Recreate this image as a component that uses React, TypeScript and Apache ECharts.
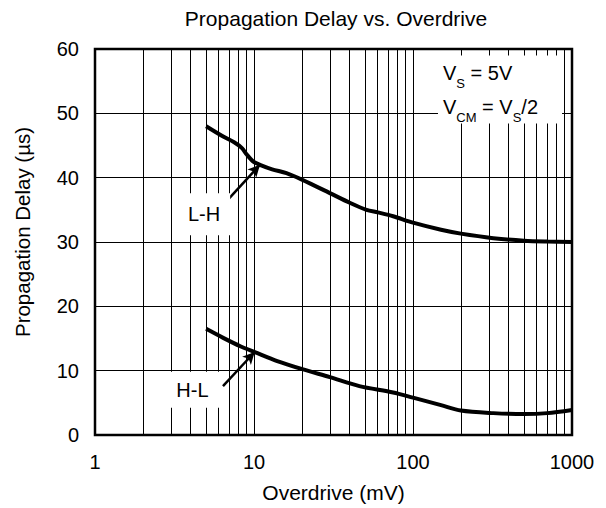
import React, { useEffect, useRef } from 'react';
import * as echarts from 'echarts';

// L-H propagation delay (µs) vs overdrive (mV)
const overdriveLH = [5, 6.4, 7.5, 8.4, 9, 9.9, 10.9, 13, 16, 20, 30, 40, 51, 60, 75, 100, 150, 200, 320, 500, 700, 1000];
const delayLH = [48, 46.4, 45.5, 44.6, 43.6, 42.5, 42.0, 41.3, 40.7, 39.7, 37.6, 36.1, 35.0, 34.6, 34.0, 33.0, 31.9, 31.3, 30.6, 30.2, 30.07, 30.0];

// H-L propagation delay (µs) vs overdrive (mV)
const overdriveHL = [5, 6.4, 8.2, 10.1, 14, 20.4, 30, 46, 75, 100, 150, 200, 320, 500, 700, 1000];
const delayHL = [16.5, 15.1, 13.8, 12.9, 11.5, 10.2, 9.0, 7.6, 6.6, 5.8, 4.65, 3.8, 3.4, 3.25, 3.4, 3.9];

// minor log gridlines
const minorGrid = [2, 3, 4, 5, 6, 7, 8, 9, 20, 30, 40, 50, 60, 70, 80, 90, 200, 300, 400, 500, 600, 700, 800, 900];

// annotation anchors in data coordinates [overdrive, delay]
const labelLH = [4.85, 34.3];
const labelHL = [4.1, 7.05];
const arrowLH = [[6.86, 36.6], [10.9, 42.0]];
const arrowHL = [[6.38, 7.6], [10.1, 12.9]];
const condAnchor = [143.6, 53.7];

const FONT = "'Liberation Sans', Arial, sans-serif";

export default function App() {
  const ref = useRef<HTMLDivElement>(null);
  useEffect(() => {
    document.body.style.margin = '0';
    const chart = echarts.init(ref.current!, null, { renderer: 'svg' });
    const lh = overdriveLH.map((x, i) => [x, delayLH[i]]);
    const hl = overdriveHL.map((x, i) => [x, delayHL[i]]);
    const boxLabel = {
      show: true,
      position: 'inside',
      formatter: '{b}',
      color: '#000',
      fontSize: 20,
      fontFamily: FONT,
      lineHeight: 20,
      backgroundColor: '#fff',
    };
    chart.setOption({
      animation: false,
      backgroundColor: '#fff',
      textStyle: { fontFamily: FONT },
      title: {
        text: 'Propagation Delay vs. Overdrive',
        left: 331,
        top: 3,
        textAlign: 'center',
        textStyle: { fontSize: 21, fontWeight: 'normal', color: '#000', fontFamily: FONT },
      },
      grid: {
        left: 95,
        right: 34,
        top: 49,
        bottom: 72,
        show: true,
        borderColor: '#000',
        borderWidth: 2.5,
      },
      xAxis: {
        type: 'log',
        logBase: 10,
        min: 1,
        max: 1000,
        name: 'Overdrive (mV)',
        nameLocation: 'middle',
        nameGap: 47,
        nameTextStyle: { fontSize: 21, color: '#000', fontFamily: FONT },
        axisLine: { show: false },
        axisTick: { show: false },
        axisLabel: { fontSize: 20, color: '#000', margin: 17, fontFamily: FONT, formatter: (v: number) => String(v) },
        splitLine: { show: true, lineStyle: { color: '#000', width: 1 } },
      },
      yAxis: {
        type: 'value',
        min: 0,
        max: 60,
        interval: 10,
        name: 'Propagation Delay (µs)',
        nameLocation: 'middle',
        nameGap: 62,
        nameTextStyle: { fontSize: 20.5, color: '#000', fontFamily: FONT, padding: [0, 0, 0, 20] },
        axisLine: { show: false },
        axisTick: { show: false },
        axisLabel: { fontSize: 20, color: '#000', margin: 16, fontFamily: FONT },
        splitLine: { show: true, lineStyle: { color: '#000', width: 1 } },
      },
      series: [
        {
          type: 'line',
          name: 'grid',
          data: [],
          z: 1,
          silent: true,
          markLine: {
            silent: true,
            symbol: ['none', 'none'],
            label: { show: false },
            lineStyle: { color: '#000', width: 1, type: 'solid' },
            emphasis: { disabled: true },
            data: minorGrid.map((v) => ({ xAxis: v })),
          },
        },
        {
          type: 'line',
          name: 'L-H',
          data: lh,
          z: 3,
          showSymbol: false,
          smooth: 0.3,
          lineStyle: { color: '#000', width: 4 },
        },
        {
          type: 'line',
          name: 'H-L',
          data: hl,
          z: 3,
          showSymbol: false,
          smooth: 0.3,
          lineStyle: { color: '#000', width: 4 },
        },
        {
          type: 'line',
          name: 'annotations',
          data: [],
          z: 10,
          silent: true,
          markLine: {
            silent: true,
            symbol: ['none', 'arrow'],
            symbolSize: [9, 12],
            label: { show: false },
            lineStyle: { color: '#000', width: 2.5, type: 'solid' },
            emphasis: { disabled: true },
            data: [
              [{ coord: arrowLH[0] }, { coord: arrowLH[1] }],
              [{ coord: arrowHL[0] }, { coord: arrowHL[1] }],
            ],
          },
          markPoint: {
            silent: true,
            symbol: 'circle',
            symbolSize: 0,
            data: [
              { name: 'L-H', coord: labelLH, label: { ...boxLabel, padding: [11, 10, 11, 10] } },
              { name: 'H-L', coord: labelHL, label: { ...boxLabel, padding: [8, 12, 8, 12] } },
              {
                name: 'cond',
                coord: condAnchor,
                label: {
                  show: true,
                  position: 'inside',
                  align: 'left',
                  verticalAlign: 'middle',
                  backgroundColor: '#fff',
                  padding: [0, 24, 0, 5],
                  formatter: '{m|V}{s|S}{m| = 5V}\n{m|V}{s|CM}{m| = V}{s|S}{m|/2}',
                  rich: {
                    m: { fontSize: 20, color: '#000', lineHeight: 34, fontFamily: FONT },
                    s: { fontSize: 13, color: '#000', lineHeight: 24, verticalAlign: 'bottom', fontFamily: FONT },
                  },
                },
              },
            ],
          },
        },
      ],
    });
    return () => chart.dispose();
  }, []);
  return <div ref={ref} style={{ width: 606, height: 508 }} />;
}
